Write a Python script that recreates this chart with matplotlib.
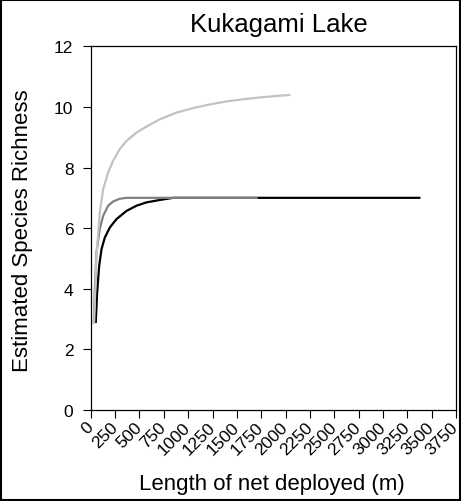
import matplotlib
matplotlib.use("Agg")
import matplotlib.pyplot as plt
from matplotlib.patches import Rectangle

plt.rcParams['font.family'] = ['Liberation Sans', 'DejaVu Sans']

# Rarefaction curves: effort (m of net) vs estimated species richness
effort_a = [34, 58, 92, 127, 178, 229, 298, 367, 469, 572, 709, 880, 1051, 1223, 1394, 1565, 1736, 1908, 2038]
rich_a = [2.89, 5.09, 6.52, 7.29, 7.84, 8.22, 8.61, 8.88, 9.15, 9.35, 9.59, 9.81, 9.96, 10.08, 10.18, 10.25, 10.31, 10.36, 10.39]

effort_b = [31, 41, 58, 92, 127, 178, 229, 298, 367, 1703]
rich_b = [2.89, 3.99, 5.2, 5.97, 6.41, 6.74, 6.88, 6.97, 7.0, 7.0]

effort_c = [51, 65, 86, 110, 144, 195, 264, 367, 469, 572, 709, 846, 3374]
rich_c = [2.91, 3.88, 4.76, 5.31, 5.69, 6.02, 6.3, 6.57, 6.74, 6.85, 6.93, 7.0, 7.0]

x_ticks = list(range(0, 3751, 250))
y_ticks = list(range(0, 13, 2))

fig = plt.figure(figsize=(4.61, 5.02), dpi=100)
ax = fig.add_axes([0.197, 0.181, 0.792, 0.725])

ax.plot(effort_c, rich_c, color='black', lw=1.6)
ax.plot(effort_b, rich_b, color='#808080', lw=1.6)
ax.plot(effort_a, rich_a, color='#c2c2c2', lw=1.6)

ax.set_xlim(0, 3750)
ax.set_ylim(0, 12)
ax.set_xticks(x_ticks)
ax.set_xticklabels([str(t) for t in x_ticks], rotation=45, ha='right', va='center',
                   rotation_mode='anchor', fontsize=12.5)
ax.set_yticks(y_ticks)
ax.set_yticklabels([str(t) for t in y_ticks], fontsize=12.5)
ax.tick_params(direction='out', length=5.5, width=0.8, colors='black')
ax.tick_params(axis='y', pad=7)
ax.tick_params(axis='x', pad=4.6)
for s in ax.spines.values():
    s.set_linewidth(0.9)

ax.set_title('Kukagami Lake', fontsize=18.5, pad=11, x=0.515)
ax.set_xlabel('Length of net deployed (m)', fontsize=16)
ax.set_ylabel('Estimated Species Richness', fontsize=16)
ax.xaxis.set_label_coords(0.497, -0.172)
ax.yaxis.set_label_coords(-0.159, 0.497)

fig.patches.append(Rectangle((0.002, 0.002), 0.996, 0.996, transform=fig.transFigure,
                             fill=False, edgecolor='black', lw=1.5))

fig.savefig('out.png', dpi=100)
